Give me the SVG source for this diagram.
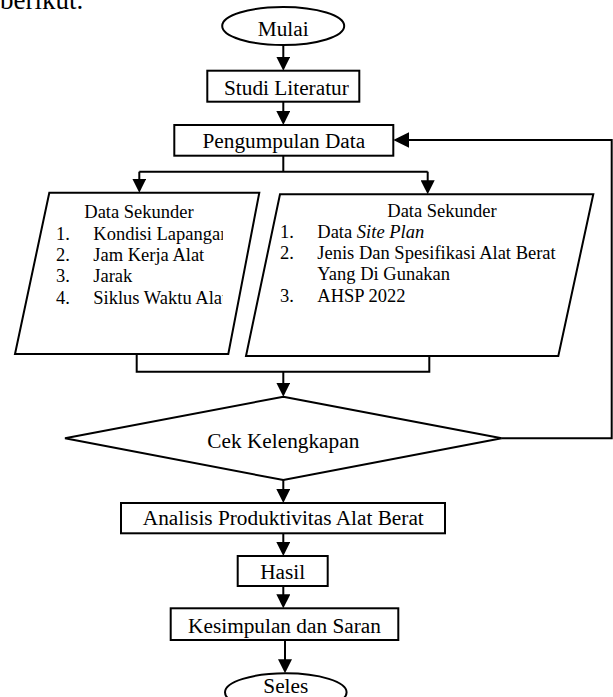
<svg xmlns="http://www.w3.org/2000/svg" width="613" height="697" viewBox="0 0 613 697">
<style>
.s{fill:#fff;stroke:#000;stroke-width:2}
.c{fill:none;stroke:#000;stroke-width:2}
.t{font-family:"Liberation Serif","Times New Roman",serif;font-size:21.3px;fill:#000}
.m{text-anchor:middle}
.l{font-family:"Liberation Serif","Times New Roman",serif;font-size:18.5px;fill:#000}
</style>
<defs>
<marker id="a" markerUnits="userSpaceOnUse" markerWidth="14" markerHeight="14" refX="11" refY="7" orient="auto"><path d="M0,0 L14,7 L0,14 z" fill="#000"/></marker>
<marker id="b" markerUnits="userSpaceOnUse" markerWidth="16" markerHeight="16" refX="13" refY="8" orient="auto"><path d="M0,0 L16,8 L0,16 z" fill="#000"/></marker>
<clipPath id="cl"><rect x="0" y="190" width="222.8" height="170"/></clipPath>
</defs>
<text class="t" x="0" y="9.3" style="font-size:27px">berikut.</text>
<g id="connectors">
<path class="c" d="M283.3,45 V67.7" marker-end="url(#a)"/>
<path class="c" d="M283.3,101.7 V122" marker-end="url(#a)"/>
<path class="c" d="M283.3,155.7 V171.7 M139.3,171.7 H427.7"/>
<path class="c" d="M139.3,171.7 V189.7" marker-end="url(#a)"/>
<path class="c" d="M427.7,171.7 V191.3" marker-end="url(#a)"/>
<path class="c" d="M136.7,354 V371.7 H429.3 V356"/>
<path class="c" d="M283.3,371.7 V393.7" marker-end="url(#a)"/>
<path class="c" d="M283.3,480 V500" marker-end="url(#a)"/>
<path class="c" d="M501.7,438.3 H611.7 V140 H396.3" marker-end="url(#b)"/>
<path class="c" d="M283.3,533.3 V553" marker-end="url(#a)"/>
<path class="c" d="M283.3,586 V605.3" marker-end="url(#a)"/>
<path class="c" d="M285,640 V670.3" marker-end="url(#a)"/>
</g>
<g id="mulai">
<ellipse class="s" cx="283.2" cy="26" rx="61" ry="19"/>
<text class="t m" x="283.2" y="36">Mulai</text>
</g>
<g id="studi">
<rect class="s" x="207.3" y="70.7" width="152" height="31"/>
<text class="t" x="224" y="95">Studi Literatur</text>
</g>
<g id="pengumpulan">
<rect class="s" x="174.3" y="125" width="219" height="30.7"/>
<text class="t m" x="283.8" y="148.3">Pengumpulan Data</text>
</g>
<g id="data1">
<polygon class="s" points="49.3,192.7 259.3,192.7 228.3,354 15,354"/>
<g clip-path="url(#cl)">
<text class="l m" x="139" y="218.3">Data Sekunder</text>
<text class="l" x="56" y="239.6">1.</text><text class="l" x="93.3" y="239.6">Kondisi Lapangan</text>
<text class="l" x="56" y="260.9">2.</text><text class="l" x="93.3" y="260.9">Jam Kerja Alat</text>
<text class="l" x="56" y="282.2">3.</text><text class="l" x="93.3" y="282.2">Jarak</text>
<text class="l" x="56" y="303.5">4.</text><text class="l" x="93.3" y="303.5">Siklus Waktu Alat</text>
</g>
</g>
<g id="data2">
<polygon class="s" points="280,194.3 593.3,194.3 558.3,356 246,356"/>
<text class="l m" x="442" y="216.5">Data Sekunder</text>
<text class="l" x="280" y="237.8">1.</text><text class="l" x="317.3" y="237.8">Data <tspan font-style="italic">Site Plan</tspan></text>
<text class="l" x="280" y="259.1">2.</text><text class="l" x="317.3" y="259.1">Jenis Dan Spesifikasi Alat Berat</text>
<text class="l" x="317.3" y="280.4">Yang Di Gunakan</text>
<text class="l" x="280" y="301.7">3.</text><text class="l" x="317.3" y="301.7">AHSP 2022</text>
</g>
<g id="cek">
<polygon class="s" points="283.3,396.7 501.7,438.3 283.3,480 65,438.3"/>
<text class="t m" x="283.3" y="448.3">Cek Kelengkapan</text>
</g>
<g id="analisis">
<rect class="s" x="121" y="503" width="324" height="30.3"/>
<text class="t m" x="283.3" y="525">Analisis Produktivitas Alat Berat</text>
</g>
<g id="hasil">
<rect class="s" x="237.7" y="556" width="90" height="30"/>
<text class="t m" x="282.7" y="579.3">Hasil</text>
</g>
<g id="kesimpulan">
<rect class="s" x="170.7" y="608.3" width="227.6" height="31.7"/>
<text class="t m" x="284.5" y="632.7">Kesimpulan dan Saran</text>
</g>
<g id="seles">
<ellipse class="s" cx="285.8" cy="692.3" rx="60.8" ry="19"/>
<text class="t m" x="285.8" y="692.7">Seles</text>
</g>
</svg>
